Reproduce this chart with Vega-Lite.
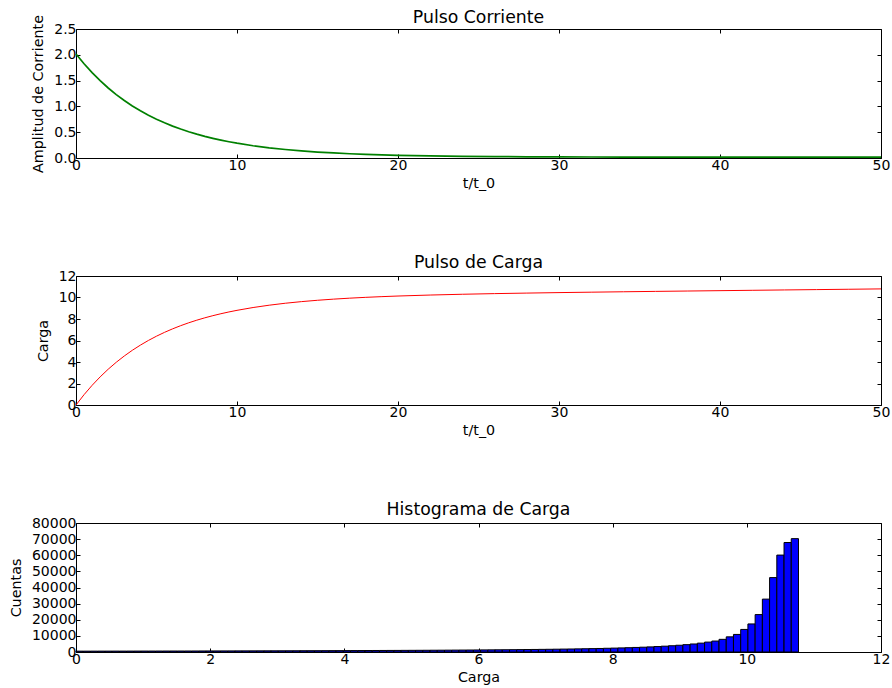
{
  "$schema": "https://vega.github.io/schema/vega-lite/v6.json",
  "background": "white",
  "padding": {"left": 8, "top": 8, "right": 5, "bottom": 5},
  "config": {
    "font": "DejaVu Sans",
    "view": {"stroke": "black", "strokeWidth": 1},
    "axis": {"domain": false, "grid": false, "tickColor": "black", "tickSize": -4, "labelColor": "black", "labelFontSize": 14, "titleFontSize": 14.3, "titleFontWeight": "normal", "titleColor": "black", "labelFont": "DejaVu Sans", "titleFont": "DejaVu Sans", "labelPadding": 4, "labelFlush": false, "labelOverlap": false},
    "axisY": {"titlePadding": 8},
    "title": {"fontSize": 17.3, "fontWeight": "normal", "color": "black", "font": "DejaVu Sans"}
  },
  "spacing": 118,
  "bounds": "flush",
  "datasets": {
    "curve": [
      {"t": 0, "I": 2.016, "Q": 0},
      {"t": 0.5, "I": 1.8257, "Q": 0.9596},
      {"t": 1, "I": 1.6535, "Q": 1.8287},
      {"t": 1.5, "I": 1.4976, "Q": 2.6158},
      {"t": 2, "I": 1.3566, "Q": 3.3288},
      {"t": 2.5, "I": 1.2291, "Q": 3.9747},
      {"t": 3, "I": 1.1136, "Q": 4.5599},
      {"t": 3.5, "I": 1.0092, "Q": 5.0902},
      {"t": 4, "I": 0.9147, "Q": 5.5707},
      {"t": 4.5, "I": 0.8291, "Q": 6.0063},
      {"t": 5, "I": 0.7518, "Q": 6.4012},
      {"t": 5.5, "I": 0.6817, "Q": 6.7593},
      {"t": 6, "I": 0.6184, "Q": 7.0841},
      {"t": 6.5, "I": 0.5611, "Q": 7.3787},
      {"t": 7, "I": 0.5092, "Q": 7.646},
      {"t": 7.5, "I": 0.4623, "Q": 7.8887},
      {"t": 8, "I": 0.4198, "Q": 8.109},
      {"t": 8.5, "I": 0.3814, "Q": 8.3092},
      {"t": 9, "I": 0.3466, "Q": 8.491},
      {"t": 9.5, "I": 0.3151, "Q": 8.6563},
      {"t": 10, "I": 0.2867, "Q": 8.8066},
      {"t": 11, "I": 0.2376, "Q": 9.068},
      {"t": 12, "I": 0.1974, "Q": 9.2848},
      {"t": 13, "I": 0.1645, "Q": 9.4653},
      {"t": 14, "I": 0.1376, "Q": 9.6159},
      {"t": 15, "I": 0.1156, "Q": 9.7421},
      {"t": 16, "I": 0.0975, "Q": 9.8484},
      {"t": 17, "I": 0.0827, "Q": 9.9383},
      {"t": 18, "I": 0.0706, "Q": 10.0148},
      {"t": 19, "I": 0.0607, "Q": 10.0803},
      {"t": 20, "I": 0.0526, "Q": 10.1368},
      {"t": 22, "I": 0.0406, "Q": 10.2292},
      {"t": 24, "I": 0.0325, "Q": 10.3017},
      {"t": 26, "I": 0.027, "Q": 10.3608},
      {"t": 28, "I": 0.0234, "Q": 10.411},
      {"t": 30, "I": 0.021, "Q": 10.4552},
      {"t": 32, "I": 0.0193, "Q": 10.4954},
      {"t": 34, "I": 0.0182, "Q": 10.5329},
      {"t": 36, "I": 0.0175, "Q": 10.5685},
      {"t": 38, "I": 0.017, "Q": 10.603},
      {"t": 40, "I": 0.0167, "Q": 10.6366},
      {"t": 42, "I": 0.0164, "Q": 10.6698},
      {"t": 44, "I": 0.0163, "Q": 10.7025},
      {"t": 46, "I": 0.0162, "Q": 10.735},
      {"t": 48, "I": 0.0161, "Q": 10.7673},
      {"t": 50, "I": 0.0161, "Q": 10.7995}
    ],
    "hist": [
      {"b0": 0, "b1": 0.1077, "n": 526},
      {"b0": 0.1077, "b1": 0.2154, "n": 532},
      {"b0": 0.2154, "b1": 0.3231, "n": 538},
      {"b0": 0.3231, "b1": 0.4308, "n": 544},
      {"b0": 0.4308, "b1": 0.5385, "n": 550},
      {"b0": 0.5385, "b1": 0.6462, "n": 556},
      {"b0": 0.6462, "b1": 0.7539, "n": 562},
      {"b0": 0.7539, "b1": 0.8616, "n": 569},
      {"b0": 0.8616, "b1": 0.9693, "n": 576},
      {"b0": 0.9693, "b1": 1.077, "n": 582},
      {"b0": 1.077, "b1": 1.1847, "n": 589},
      {"b0": 1.1847, "b1": 1.2924, "n": 596},
      {"b0": 1.2924, "b1": 1.4001, "n": 604},
      {"b0": 1.4001, "b1": 1.5078, "n": 611},
      {"b0": 1.5078, "b1": 1.6155, "n": 619},
      {"b0": 1.6155, "b1": 1.7232, "n": 627},
      {"b0": 1.7232, "b1": 1.8309, "n": 635},
      {"b0": 1.8309, "b1": 1.9386, "n": 643},
      {"b0": 1.9386, "b1": 2.0463, "n": 651},
      {"b0": 2.0463, "b1": 2.154, "n": 660},
      {"b0": 2.154, "b1": 2.2617, "n": 669},
      {"b0": 2.2617, "b1": 2.3694, "n": 678},
      {"b0": 2.3694, "b1": 2.4771, "n": 688},
      {"b0": 2.4771, "b1": 2.5848, "n": 698},
      {"b0": 2.5848, "b1": 2.6925, "n": 708},
      {"b0": 2.6925, "b1": 2.8002, "n": 718},
      {"b0": 2.8002, "b1": 2.9079, "n": 729},
      {"b0": 2.9079, "b1": 3.0156, "n": 739},
      {"b0": 3.0156, "b1": 3.1233, "n": 751},
      {"b0": 3.1233, "b1": 3.231, "n": 762},
      {"b0": 3.231, "b1": 3.3387, "n": 771},
      {"b0": 3.3387, "b1": 3.4464, "n": 785},
      {"b0": 3.4464, "b1": 3.5541, "n": 797},
      {"b0": 3.5541, "b1": 3.6618, "n": 811},
      {"b0": 3.6618, "b1": 3.7695, "n": 824},
      {"b0": 3.7695, "b1": 3.8772, "n": 838},
      {"b0": 3.8772, "b1": 3.9849, "n": 852},
      {"b0": 3.9849, "b1": 4.0926, "n": 868},
      {"b0": 4.0926, "b1": 4.2003, "n": 883},
      {"b0": 4.2003, "b1": 4.308, "n": 899},
      {"b0": 4.308, "b1": 4.4157, "n": 915},
      {"b0": 4.4157, "b1": 4.5234, "n": 932},
      {"b0": 4.5234, "b1": 4.6311, "n": 950},
      {"b0": 4.6311, "b1": 4.7388, "n": 969},
      {"b0": 4.7388, "b1": 4.8465, "n": 988},
      {"b0": 4.8465, "b1": 4.9542, "n": 1008},
      {"b0": 4.9542, "b1": 5.0619, "n": 1028},
      {"b0": 5.0619, "b1": 5.1696, "n": 1051},
      {"b0": 5.1696, "b1": 5.2773, "n": 1073},
      {"b0": 5.2773, "b1": 5.385, "n": 1097},
      {"b0": 5.385, "b1": 5.4927, "n": 1121},
      {"b0": 5.4927, "b1": 5.6004, "n": 1147},
      {"b0": 5.6004, "b1": 5.7081, "n": 1174},
      {"b0": 5.7081, "b1": 5.8158, "n": 1202},
      {"b0": 5.8158, "b1": 5.9235, "n": 1231},
      {"b0": 5.9235, "b1": 6.0312, "n": 1262},
      {"b0": 6.0312, "b1": 6.1389, "n": 1296},
      {"b0": 6.1389, "b1": 6.2466, "n": 1330},
      {"b0": 6.2466, "b1": 6.3543, "n": 1367},
      {"b0": 6.3543, "b1": 6.462, "n": 1403},
      {"b0": 6.462, "b1": 6.5697, "n": 1443},
      {"b0": 6.5697, "b1": 6.6774, "n": 1486},
      {"b0": 6.6774, "b1": 6.7851, "n": 1531},
      {"b0": 6.7851, "b1": 6.8928, "n": 1579},
      {"b0": 6.8928, "b1": 7.0005, "n": 1631},
      {"b0": 7.0005, "b1": 7.1082, "n": 1685},
      {"b0": 7.1082, "b1": 7.2159, "n": 1741},
      {"b0": 7.2159, "b1": 7.3236, "n": 1803},
      {"b0": 7.3236, "b1": 7.4313, "n": 1867},
      {"b0": 7.4313, "b1": 7.539, "n": 1943},
      {"b0": 7.539, "b1": 7.6467, "n": 2017},
      {"b0": 7.6467, "b1": 7.7544, "n": 2097},
      {"b0": 7.7544, "b1": 7.8621, "n": 2189},
      {"b0": 7.8621, "b1": 7.9698, "n": 2308},
      {"b0": 7.9698, "b1": 8.0775, "n": 2420},
      {"b0": 8.0775, "b1": 8.1852, "n": 2536},
      {"b0": 8.1852, "b1": 8.2929, "n": 2671},
      {"b0": 8.2929, "b1": 8.4006, "n": 2821},
      {"b0": 8.4006, "b1": 8.5083, "n": 2980},
      {"b0": 8.5083, "b1": 8.616, "n": 3168},
      {"b0": 8.616, "b1": 8.7237, "n": 3380},
      {"b0": 8.7237, "b1": 8.8314, "n": 3612},
      {"b0": 8.8314, "b1": 8.9391, "n": 3878},
      {"b0": 8.9391, "b1": 9.0468, "n": 4192},
      {"b0": 9.0468, "b1": 9.1545, "n": 4553},
      {"b0": 9.1545, "b1": 9.2622, "n": 4976},
      {"b0": 9.2622, "b1": 9.3699, "n": 5500},
      {"b0": 9.3699, "b1": 9.4776, "n": 6150},
      {"b0": 9.4776, "b1": 9.5853, "n": 6800},
      {"b0": 9.5853, "b1": 9.693, "n": 7850},
      {"b0": 9.693, "b1": 9.8007, "n": 9400},
      {"b0": 9.8007, "b1": 9.9084, "n": 10900},
      {"b0": 9.9084, "b1": 10.0161, "n": 14000},
      {"b0": 10.0161, "b1": 10.1238, "n": 17400},
      {"b0": 10.1238, "b1": 10.2315, "n": 23200},
      {"b0": 10.2315, "b1": 10.3392, "n": 32800},
      {"b0": 10.3392, "b1": 10.4469, "n": 46150},
      {"b0": 10.4469, "b1": 10.5546, "n": 60100},
      {"b0": 10.5546, "b1": 10.6623, "n": 67900},
      {"b0": 10.6623, "b1": 10.77, "n": 70300}
    ]
  },
  "vconcat": [
    {
      "width": 805, "height": 129,
      "title": {"text": "Pulso Corriente", "offset": -12},
      "data": {"name": "curve"},
      "layer": [
        {
          "mark": {"type": "line", "color": "#008000", "strokeWidth": 1.7},
          "encoding": {
            "x": {"field": "t", "type": "quantitative", "scale": {"domain": [0, 50], "nice": false}, "axis": {"title": "t/t_0", "values": [0, 10, 20, 30, 40, 50]}},
            "y": {"field": "I", "type": "quantitative", "scale": {"domain": [0, 2.5], "nice": false}, "axis": {"title": "Amplitud de Corriente", "values": [0, 0.5, 1, 1.5, 2, 2.5], "format": ".1f"}}
          }
        },
        {
          "mark": {"type": "line", "strokeOpacity": 0},
          "encoding": {
            "x": {"field": "t", "type": "quantitative", "scale": {"domain": [0, 50], "nice": false}, "axis": {"orient": "top", "labels": false, "title": null, "minExtent": 0, "maxExtent": 0, "values": [0, 10, 20, 30, 40, 50]}},
            "y": {"field": "I", "type": "quantitative", "scale": {"domain": [0, 2.5], "nice": false}, "axis": {"orient": "right", "labels": false, "title": null, "minExtent": 0, "maxExtent": 0, "values": [0, 0.5, 1, 1.5, 2, 2.5]}}
          }
        }
      ],
      "resolve": {"axis": {"x": "independent", "y": "independent"}}
    },
    {
      "width": 805, "height": 129,
      "title": {"text": "Pulso de Carga", "offset": -2},
      "data": {"name": "curve"},
      "layer": [
        {
          "mark": {"type": "line", "color": "#ff0000", "strokeWidth": 1},
          "encoding": {
            "x": {"field": "t", "type": "quantitative", "scale": {"domain": [0, 50], "nice": false}, "axis": {"title": "t/t_0", "values": [0, 10, 20, 30, 40, 50]}},
            "y": {"field": "Q", "type": "quantitative", "scale": {"domain": [0, 12], "nice": false}, "axis": {"title": "Carga", "values": [0, 2, 4, 6, 8, 10, 12]}}
          }
        },
        {
          "mark": {"type": "line", "strokeOpacity": 0},
          "encoding": {
            "x": {"field": "t", "type": "quantitative", "scale": {"domain": [0, 50], "nice": false}, "axis": {"orient": "top", "labels": false, "title": null, "minExtent": 0, "maxExtent": 0, "values": [0, 10, 20, 30, 40, 50]}},
            "y": {"field": "Q", "type": "quantitative", "scale": {"domain": [0, 12], "nice": false}, "axis": {"orient": "right", "labels": false, "title": null, "minExtent": 0, "maxExtent": 0, "values": [0, 2, 4, 6, 8, 10, 12]}}
          }
        }
      ],
      "resolve": {"axis": {"x": "independent", "y": "independent"}}
    },
    {
      "width": 805, "height": 129,
      "title": {"text": "Histograma de Carga", "offset": -2},
      "data": {"name": "hist"},
      "layer": [
        {
          "mark": {"type": "rect", "color": "#0000ff", "stroke": "black", "strokeWidth": 1},
          "encoding": {
            "x": {"field": "b0", "type": "quantitative", "scale": {"domain": [0, 12], "nice": false}, "axis": {"title": "Carga", "values": [0, 2, 4, 6, 8, 10, 12]}},
            "x2": {"field": "b1"},
            "y": {"field": "n", "type": "quantitative", "scale": {"domain": [0, 80000], "nice": false}, "axis": {"title": "Cuentas", "values": [0, 10000, 20000, 30000, 40000, 50000, 60000, 70000, 80000], "format": "d"}},
            "y2": {"datum": 0}
          }
        },
        {
          "mark": {"type": "point", "opacity": 0},
          "encoding": {
            "x": {"field": "b0", "type": "quantitative", "scale": {"domain": [0, 12], "nice": false}, "axis": {"orient": "top", "labels": false, "title": null, "minExtent": 0, "maxExtent": 0, "values": [0, 2, 4, 6, 8, 10, 12]}},
            "y": {"field": "n", "type": "quantitative", "scale": {"domain": [0, 80000], "nice": false}, "axis": {"orient": "right", "labels": false, "title": null, "minExtent": 0, "maxExtent": 0, "values": [0, 10000, 20000, 30000, 40000, 50000, 60000, 70000, 80000]}}
          }
        }
      ],
      "resolve": {"axis": {"x": "independent", "y": "independent"}}
    }
  ]
}
